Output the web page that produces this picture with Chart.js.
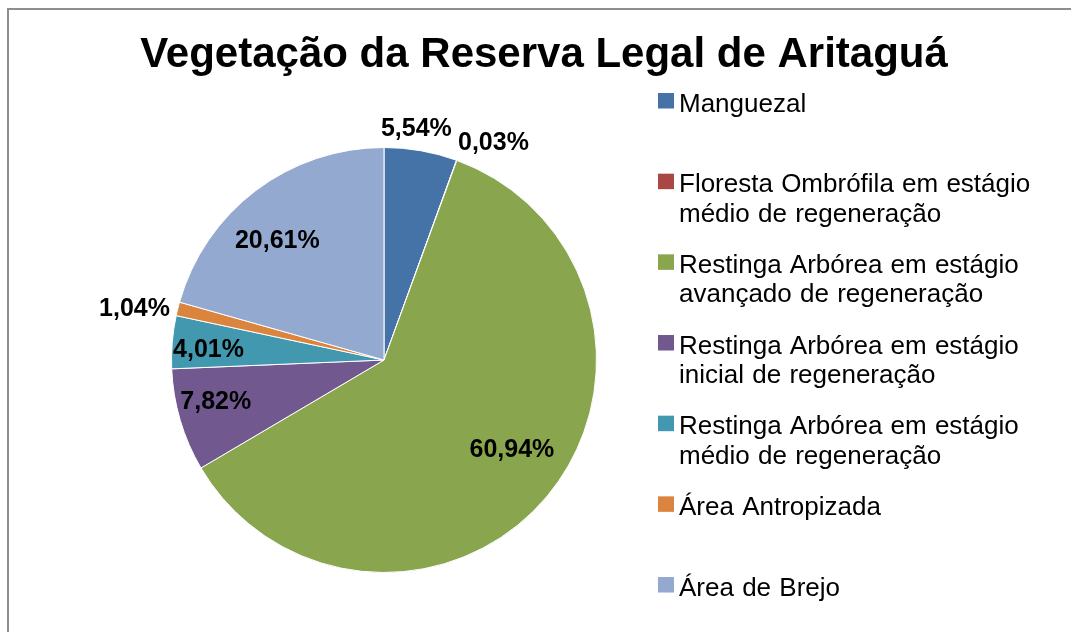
<!DOCTYPE html>
<html><head><meta charset="utf-8">
<script src="https://cdn.jsdelivr.net/npm/chart.js@4.4.1/dist/chart.umd.min.js"></script>
<style>html,body{margin:0;padding:0;background:#fff;overflow:hidden}canvas{display:block}</style>
</head><body>
<canvas id="c" width="1071" height="632"></canvas>
<script>
const chartTitle = 'Vegetação da Reserva Legal de Aritaguá';
const categories = [
  'Manguezal',
  'Floresta Ombrófila em estágio médio de regeneração',
  'Restinga Arbórea em estágio avançado de regeneração',
  'Restinga Arbórea em estágio inicial de regeneração',
  'Restinga Arbórea em estágio médio de regeneração',
  'Área Antropizada',
  'Área de Brejo'
];
const percentages = [5.54, 0.03, 60.94, 7.82, 4.01, 1.04, 20.61];
const sliceColors = ['#4572A7','#AA4643','#89A54E','#71588F','#4198AF','#DB843D','#93A9CF'];
const labelRadius = [1.098, 1.142, 0.737, 0.816, 0.827, 1.198, 0.750];
const labelAngleShift = [-2, 6.8, -4.5, 2.5, -1.6, -2.4, -4.9];

const FONT = '"Liberation Sans", Arial, sans-serif';
function fmt(v){ return v.toFixed(2).replace('.', ',') + '%'; }

function wrap(ctx, text, maxW){
  const words = text.split(' ');
  const lines = [];
  let cur = '';
  words.forEach(w => {
    const t = cur ? cur + ' ' + w : w;
    if (cur && ctx.measureText(t).width > maxW) { lines.push(cur); cur = w; }
    else cur = t;
  });
  if (cur) lines.push(cur);
  return lines;
}

const decor = {
  id: 'decor',
  beforeDraw(chart){
    const ctx = chart.ctx;
    ctx.save();
    ctx.fillStyle = '#fff';
    ctx.fillRect(0, 0, chart.width, chart.height);
    ctx.fillStyle = '#8e8e8e';
    ctx.fillRect(7, 8, chart.width - 7, 2);
    ctx.fillRect(7, 8, 2, chart.height - 8);
    ctx.restore();
  },
  afterDraw(chart){
    const ctx = chart.ctx;
    ctx.save();
    // title
    ctx.font = 'bold 42px ' + FONT;
    ctx.fillStyle = '#000';
    ctx.textAlign = 'center';
    ctx.textBaseline = 'alphabetic';
    ctx.letterSpacing = '0px';
    ctx.wordSpacing = '0px';
    ctx.fillText(chartTitle, 544, 67);

    // data labels
    const meta = chart.getDatasetMeta(0);
    ctx.font = 'bold 25px ' + FONT;
    ctx.textBaseline = 'middle';
    meta.data.forEach((arc, i) => {
      const p = arc.getProps(['x','y','startAngle','endAngle','outerRadius'], true);
      const mid = (p.startAngle + p.endAngle) / 2 + labelAngleShift[i] * Math.PI / 180;
      const r = p.outerRadius * labelRadius[i];
      ctx.fillText(fmt(chart.data.datasets[0].data[i]), p.x + Math.cos(mid) * r, p.y + Math.sin(mid) * r);
    });

    // legend
    ctx.font = '26px ' + FONT;
    ctx.wordSpacing = '1px';
    ctx.textAlign = 'left';
    ctx.textBaseline = 'alphabetic';
    const colors = chart.data.datasets[0].backgroundColor;
    chart.data.labels.forEach((lab, i) => {
      const top = 93 + i * 80.67;
      ctx.fillStyle = colors[i];
      ctx.fillRect(658, top, 16, 15.5);
      ctx.fillStyle = '#000';
      const lines = wrap(ctx, lab, 375);
      lines.forEach((ln, j) => ctx.fillText(ln, 679, top + 18.5 + j * 29.5));
    });
    ctx.restore();
  }
};

new Chart(document.getElementById('c'), {
  type: 'pie',
  data: {
    labels: categories,
    datasets: [{
      data: percentages,
      backgroundColor: sliceColors,
      borderColor: '#ffffff',
      borderWidth: 1
    }]
  },
  options: {
    responsive: false,
    animation: false,
    devicePixelRatio: 1,
    layout: { padding: { left: 171, right: 474, top: 147, bottom: 59 } },
    plugins: { legend: { display: false }, tooltip: { enabled: false }, title: { display: false } }
  },
  plugins: [decor]
});
</script>
</body></html>
